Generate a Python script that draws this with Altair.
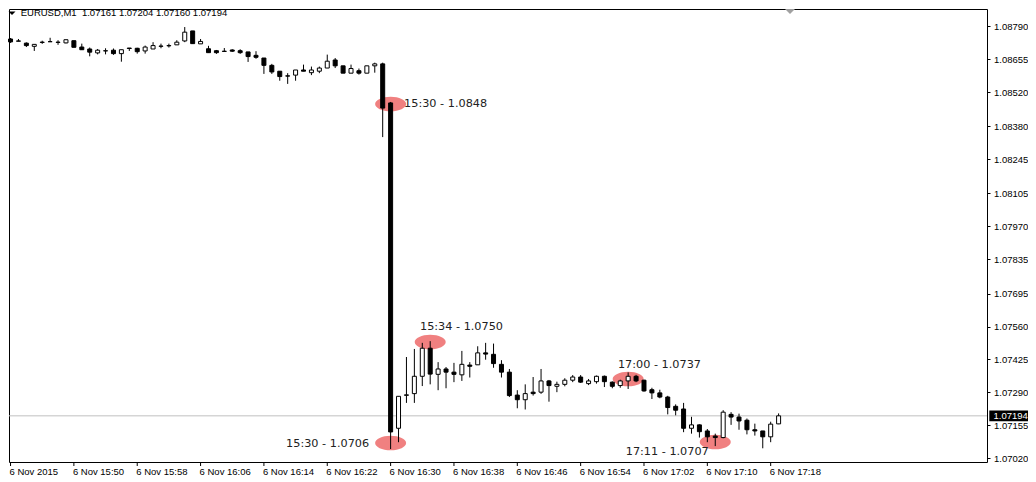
import altair as alt
import pandas as pd

# ---------------- data ----------------
symbol = "EURUSD,M1"

opens = [1.08738, 1.08730, 1.08721, 1.08708, 1.08725, 1.08727, 1.08724, 1.08722, 1.08731, 1.08705,
         1.08697, 1.08681, 1.08689, 1.08692, 1.08678, 1.08701, 1.08700, 1.08689, 1.08697, 1.08708,
         1.08710, 1.08714, 1.08730, 1.08771, 1.08718, 1.08698, 1.08690, 1.08688, 1.08693, 1.08690,
         1.08685, 1.08671, 1.08660, 1.08630, 1.08606, 1.08587, 1.08590, 1.08611, 1.08600, 1.08606,
         1.08619, 1.08652, 1.08628, 1.08598, 1.08608, 1.08598, 1.08628, 1.08636, 1.08476, 1.07143,
         1.07278, 1.07285, 1.07356, 1.07471, 1.07364, 1.07386, 1.07373, 1.07362, 1.07402, 1.07403,
         1.07452, 1.07446, 1.07405, 1.07373, 1.07279, 1.07260, 1.07291, 1.07291, 1.07337, 1.07315,
         1.07323, 1.07340, 1.07353, 1.07326, 1.07334, 1.07356, 1.07332, 1.07318, 1.07337, 1.07356,
         1.07340, 1.07301, 1.07288, 1.07271, 1.07233, 1.07222, 1.07143, 1.07157, 1.07132, 1.07111,
         1.07105, 1.07200, 1.07189, 1.07176, 1.07137, 1.07132, 1.07108, 1.07161]
highs = [1.08742, 1.08738, 1.08724, 1.08716, 1.08731, 1.08743, 1.08733, 1.08735, 1.08731, 1.08719,
         1.08703, 1.08697, 1.08700, 1.08699, 1.08694, 1.08701, 1.08702, 1.08711, 1.08725, 1.08719,
         1.08719, 1.08733, 1.08787, 1.08771, 1.08738, 1.08710, 1.08693, 1.08701, 1.08696, 1.08696,
         1.08685, 1.08688, 1.08660, 1.08636, 1.08606, 1.08598, 1.08611, 1.08633, 1.08625, 1.08625,
         1.08674, 1.08660, 1.08628, 1.08633, 1.08617, 1.08628, 1.08641, 1.08641, 1.08480, 1.07274,
         1.07435, 1.07468, 1.07493, 1.07500, 1.07414, 1.07394, 1.07411, 1.07460, 1.07414, 1.07479,
         1.07493, 1.07490, 1.07422, 1.07386, 1.07299, 1.07323, 1.07353, 1.07386, 1.07341, 1.07334,
         1.07348, 1.07361, 1.07361, 1.07345, 1.07359, 1.07359, 1.07335, 1.07342, 1.07372, 1.07362,
         1.07342, 1.07309, 1.07301, 1.07276, 1.07241, 1.07247, 1.07190, 1.07159, 1.07140, 1.07121,
         1.07217, 1.07209, 1.07203, 1.07183, 1.07162, 1.07132, 1.07170, 1.07204]
lows = [1.08722, 1.08729, 1.08705, 1.08689, 1.08718, 1.08726, 1.08714, 1.08720, 1.08704, 1.08693,
        1.08667, 1.08675, 1.08675, 1.08673, 1.08645, 1.08689, 1.08678, 1.08678, 1.08697, 1.08700,
        1.08703, 1.08714, 1.08725, 1.08719, 1.08718, 1.08682, 1.08677, 1.08687, 1.08685, 1.08677,
        1.08644, 1.08657, 1.08595, 1.08595, 1.08567, 1.08554, 1.08567, 1.08606, 1.08590, 1.08598,
        1.08619, 1.08619, 1.08598, 1.08598, 1.08592, 1.08598, 1.08600, 1.08336, 1.07058, 1.07086,
        1.07247, 1.07247, 1.07316, 1.07323, 1.07299, 1.07307, 1.07332, 1.07337, 1.07351, 1.07403,
        1.07424, 1.07391, 1.07351, 1.07271, 1.07225, 1.07220, 1.07277, 1.07284, 1.07252, 1.07291,
        1.07315, 1.07332, 1.07329, 1.07320, 1.07326, 1.07312, 1.07307, 1.07309, 1.07304, 1.07332,
        1.07293, 1.07263, 1.07266, 1.07200, 1.07196, 1.07127, 1.07121, 1.07105, 1.07086, 1.07070,
        1.07102, 1.07157, 1.07137, 1.07118, 1.07113, 1.07061, 1.07086, 1.07160]
closes = [1.08726, 1.08729, 1.08711, 1.08716, 1.08724, 1.08727, 1.08725, 1.08735, 1.08704, 1.08694,
          1.08684, 1.08692, 1.08690, 1.08678, 1.08694, 1.08699, 1.08686, 1.08705, 1.08711, 1.08709,
          1.08711, 1.08725, 1.08766, 1.08719, 1.08728, 1.08682, 1.08682, 1.08687, 1.08688, 1.08682,
          1.08666, 1.08663, 1.08630, 1.08603, 1.08584, 1.08586, 1.08611, 1.08606, 1.08611, 1.08619,
          1.08647, 1.08628, 1.08598, 1.08617, 1.08598, 1.08628, 1.08636, 1.08455, 1.07128, 1.07274,
          1.07280, 1.07356, 1.07471, 1.07365, 1.07386, 1.07373, 1.07364, 1.07405, 1.07397, 1.07452,
          1.07447, 1.07408, 1.07373, 1.07277, 1.07260, 1.07285, 1.07285, 1.07337, 1.07318, 1.07323,
          1.07340, 1.07353, 1.07332, 1.07337, 1.07356, 1.07334, 1.07315, 1.07337, 1.07356, 1.07337,
          1.07296, 1.07288, 1.07271, 1.07228, 1.07217, 1.07143, 1.07157, 1.07129, 1.07108, 1.07105,
          1.07209, 1.07189, 1.07173, 1.07137, 1.07132, 1.07108, 1.07160, 1.07194]

x_tick_idx = [0, 8, 16, 24, 32, 40, 48, 56, 64, 72, 80, 88, 96]
x_tick_labels = ["6 Nov 2015", "6 Nov 15:50", "6 Nov 15:58", "6 Nov 16:06", "6 Nov 16:14",
                 "6 Nov 16:22", "6 Nov 16:30", "6 Nov 16:38", "6 Nov 16:46", "6 Nov 16:54",
                 "6 Nov 17:02", "6 Nov 17:10", "6 Nov 17:18"]
y_ticks = [1.08790, 1.08655, 1.08520, 1.08380, 1.08245, 1.08105, 1.07970,
           1.07835, 1.07695, 1.07560, 1.07425, 1.07290, 1.07155, 1.07020]

ann_idx = [48, 53, 78, 48, 89]
ann_price = [1.08472, 1.07496, 1.07345, 1.07083, 1.07087]
ann_text = ["15:30 - 1.0848", "15:34 - 1.0750", "17:00 - 1.0737", "15:30 - 1.0706", "17:11 - 1.0707"]

# ---------------- layout / style ----------------
W, H = 978, 453
X_DOMAIN = [0.4375, 122.6875]
Y_DOMAIN = [1.0700484, 1.0886088]
UI_FONT = "Liberation Sans"
ANN_FONT = "DejaVu Sans"
ELLIPSE = "M-1,0A1,0.47,0,1,0,1,0A1,0.47,0,1,0,-1,0Z"
TRI_DOWN = "M-1,-0.5L1,-0.5L0,0.5Z"
BOX = "M-1,-0.27L1,-0.27L1,0.27L-1,0.27Z"
ann_layout = [("left", 13.5, 0), ("left", -10.2, -15), ("left", -10.2, -14),
              ("right", -21.5, 1), ("right", -6.5, 9.7)]

candles = pd.DataFrame({"i": list(range(len(opens))), "open": opens, "high": highs,
                        "low": lows, "close": closes})
ann = pd.DataFrame({"i": ann_idx, "p": ann_price, "t": ann_text})
last = pd.DataFrame({"p": [closes[-1]], "t": [f"{closes[-1]:.5f}"]})
xticks = pd.DataFrame({"i": x_tick_idx, "t": x_tick_labels})
title_str = (f"{symbol}\u00a0\u00a0{opens[-1]:.5f} {highs[-1]:.5f} "
             f"{lows[-1]:.5f} {closes[-1]:.5f}")
title_df = pd.DataFrame({"t": [title_str]})

yaxis = alt.Axis(orient="right", values=y_ticks, format=".5f", title=None, grid=False,
                 domain=False, ticks=True, tickSize=3, tickColor="black", tickWidth=1,
                 labelPadding=3.5, labelFont=UI_FONT, labelFontSize=9.5, labelColor="black",
                 labelFlush=False, labelOverlap=False)


def X(field="i"):
    return alt.X(f"{field}:Q", scale=alt.Scale(domain=X_DOMAIN, nice=False, zero=False), axis=None)


def Y(field):
    return alt.Y(f"{field}:Q", scale=alt.Scale(domain=Y_DOMAIN, nice=False, zero=False), axis=yaxis)


price_line = alt.Chart(last).mark_rule(color="#C0C0C0", strokeWidth=1).encode(
    y=Y("p"), x=alt.value(0), x2=alt.value(W))

ellipses = alt.Chart(ann).mark_point(shape=ELLIPSE, filled=True, color="#F08080", opacity=1,
                                     size=31 * 31, strokeWidth=0).encode(x=X(), y=Y("p"))

wicks = alt.Chart(candles).mark_rule(color="black", strokeWidth=1).encode(
    x=X(), y=Y("low"), y2="high")

bodies = alt.Chart(candles).mark_bar(size=4, stroke="black", strokeWidth=1).encode(
    x=X(), y=Y("open"), y2="close",
    fill=alt.condition("datum.close > datum.open", alt.value("white"), alt.value("black")))

ann_layers = []
for k, (al, dx, dy) in enumerate(ann_layout):
    ann_layers.append(
        alt.Chart(ann.iloc[[k]]).mark_text(align=al, baseline="middle", dx=dx, dy=dy,
                                           font=ANN_FONT, fontSize=11.25, color="#222222")
        .encode(x=X(), y=Y("p"), text="t:N"))

xtick_marks = alt.Chart(xticks).mark_rule(color="black", strokeWidth=1).encode(
    x=X(), y=alt.value(H), y2=alt.value(H + 4))
xtick_text = alt.Chart(xticks).mark_text(align="left", baseline="alphabetic", dx=-1,
                                         font=UI_FONT, fontSize=9.5, color="black").encode(
    x=X(), y=alt.value(H + 13.3), text="t:N")

title_text = alt.Chart(title_df).mark_text(align="left", baseline="alphabetic", font=UI_FONT,
                                           fontSize=9.5, color="black").encode(
    x=alt.value(11.7), y=alt.value(7), text="t:N")
title_tri = alt.Chart(title_df).mark_point(shape=TRI_DOWN, filled=True, color="black",
                                           size=49, opacity=1, strokeWidth=0).encode(
    x=alt.value(3), y=alt.value(4.2))
shift_tri = alt.Chart(title_df).mark_point(shape=TRI_DOWN, filled=True, color="#A0A0A0",
                                           size=100, opacity=1, strokeWidth=0).encode(
    x=alt.value(781), y=alt.value(2.5))

price_box = alt.Chart(last).mark_point(shape=BOX, filled=True, color="black", size=40 * 40,
                                       opacity=1, strokeWidth=0).encode(
    x=alt.value(W + 22.3), y=Y("p"))
price_text = alt.Chart(last).mark_text(align="left", baseline="middle", font=UI_FONT,
                                       fontSize=9.5, color="white").encode(
    x=alt.value(W + 6.5), y=Y("p"), text="t:N")

chart = alt.layer(
    price_line, ellipses, wicks, bodies, *ann_layers, xtick_marks, xtick_text,
    title_text, title_tri, shift_tri, price_box, price_text
).properties(
    width=W, height=H,
    autosize=alt.AutoSizeParams(type="none"),
    padding={"left": 1, "top": 1, "right": 41, "bottom": 18},
).configure(background="white").configure_view(stroke="black", strokeWidth=1)

chart.save("out.html", embed_options={"renderer": "svg", "actions": False})
